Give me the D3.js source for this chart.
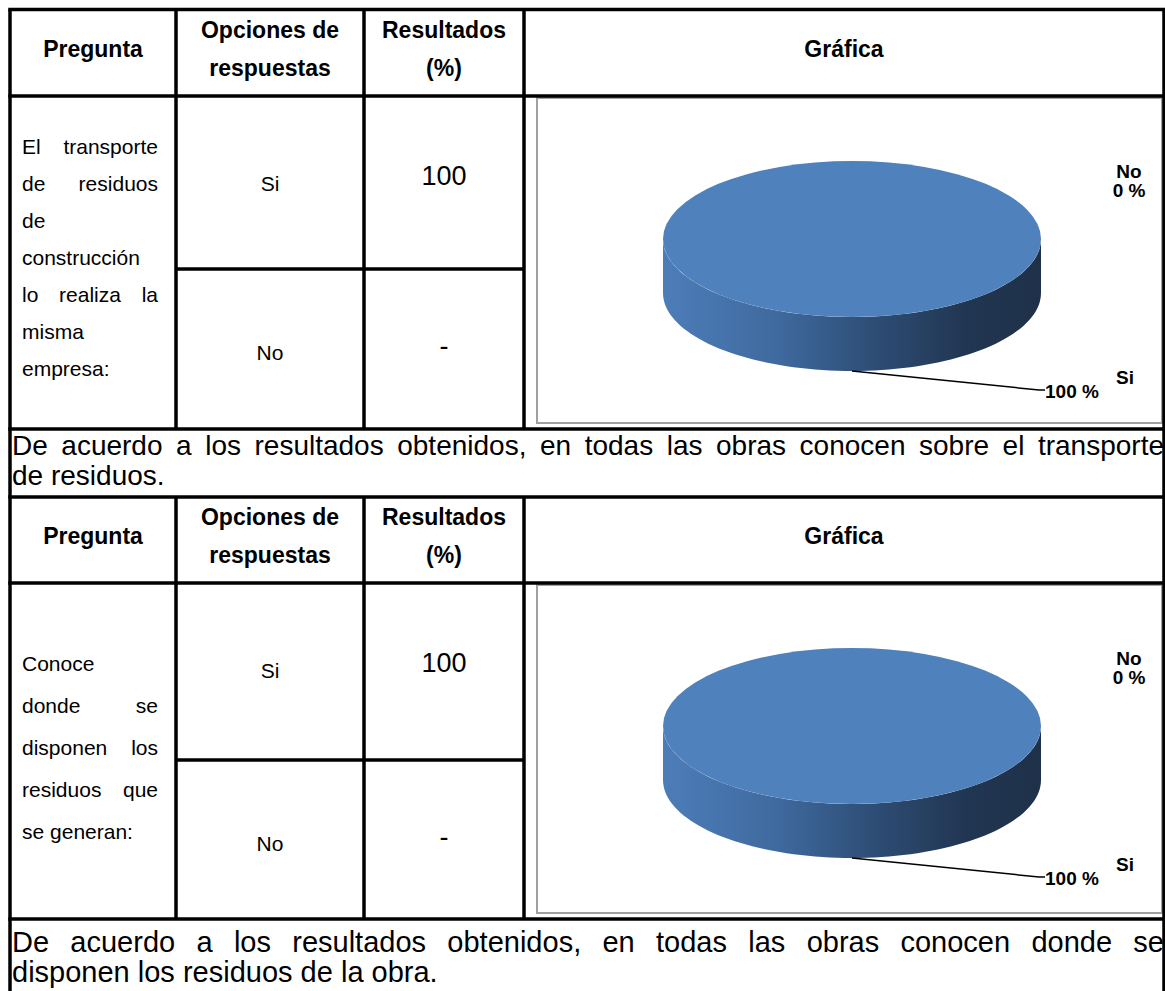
<!DOCTYPE html>
<html lang="es">
<head>
<meta charset="UTF-8">
<title>Resultados de la encuesta</title>
<script src="https://d3js.org/d3.v7.min.js"></script>
<style>
  body { margin: 0; background: #fff; }
  svg { display: block; font-family: "Liberation Sans", Arial, sans-serif; }
</style>
</head>
<body>
<svg width="1165" height="991"></svg>
<script>
  // data
  const encabezados = [["Pregunta"], ["Opciones de", "respuestas"], ["Resultados", "(%)"], ["Gráfica"]];
  const preguntas = [
    "El transporte de residuos de construcción lo realiza la misma empresa:",
    "Conoce donde se disponen los residuos que se generan:"
  ];
  const opciones = ["Si", "No"];
  const resultados = [[100, 0], [100, 0]];
  const conclusiones = [
    ["De acuerdo a los resultados obtenidos, en todas las obras conocen sobre el transporte", "de residuos."],
    ["De acuerdo a los resultados obtenidos, en todas las obras conocen donde se", "disponen los residuos de la obra."]
  ];

  // layout
  const colX = [10, 176, 364, 524, 1164];
  const secciones = [
    { top: 9.5, head: 96, split: 269, bottom: 429, end: 497, lineGap: 37, firstLine: 51, textSize: 28, textY: [445, 475] },
    { top: 497, head: 583, split: 760, bottom: 919, end: 991, lineGap: 42, firstLine: 81, textSize: 29, textY: [942, 972] }
  ];

  const svg = d3.select("svg");
  const pie = d3.pie().sort(null);
  const arcTop = d3.arc().innerRadius(0).outerRadius(1);

  const defs = svg.append("defs");

  function measure(txt, size, weight) {
    const t = svg.append("text").attr("font-size", size).attr("font-weight", weight || "normal").text(txt);
    const w = t.node().getComputedTextLength();
    t.remove();
    return w;
  }

  // draws words spread over the width (justified), or left aligned
  function justified(g, words, x0, width, y, size, justify) {
    const ws = words.map(w => measure(w, size));
    const space = measure("a a", size) - measure("aa", size);
    let gap = space;
    if (justify && words.length > 1) {
      gap = (width - d3.sum(ws)) / (words.length - 1);
    }
    let x = x0;
    words.forEach((w, i) => {
      g.append("text").attr("x", x).attr("y", y).attr("dy", "0.35em")
        .attr("font-size", size).attr("fill", "#000").text(w);
      x += ws[i] + gap;
    });
  }

  function wrap(text, size, width) {
    const words = text.split(" ");
    const lines = [];
    let cur = [];
    words.forEach(w => {
      const test = cur.concat([w]).join(" ");
      if (cur.length && measure(test, size) > width) {
        lines.push(cur);
        cur = [w];
      } else {
        cur.push(w);
      }
    });
    if (cur.length) lines.push(cur);
    return lines;
  }

  secciones.forEach((s, k) => {
    const g = svg.append("g");

    // header texts
    encabezados.forEach((lines, c) => {
      const cxh = (colX[c] + colX[c + 1]) / 2;
      const mid = (s.top + s.head) / 2 - 4;
      lines.forEach((l, i) => {
        g.append("text")
          .attr("x", cxh)
          .attr("y", mid + (i - (lines.length - 1) / 2) * 38)
          .attr("dy", "0.35em")
          .attr("text-anchor", "middle")
          .attr("font-size", 23)
          .attr("font-weight", "bold")
          .text(l);
      });
    });

    // question, wrapped and justified
    const qLines = wrap(preguntas[k], 21, 135);
    qLines.forEach((ws, i) => {
      const last = i === qLines.length - 1;
      justified(g, ws, 22, 136, s.head + s.firstLine + i * s.lineGap, 21, !last);
    });

    // options and results
    opciones.forEach((o, i) => {
      const rowTop = i === 0 ? s.head : s.split;
      g.append("text")
        .attr("x", (colX[1] + colX[2]) / 2)
        .attr("y", rowTop + (i === 0 ? 88 : 84))
        .attr("dy", "0.35em")
        .attr("text-anchor", "middle")
        .attr("font-size", 21)
        .text(o);
      const v = resultados[k][i];
      g.append("text")
        .attr("x", (colX[2] + colX[3]) / 2)
        .attr("y", rowTop + (i === 0 ? 80 : 77))
        .attr("dy", "0.35em")
        .attr("text-anchor", "middle")
        .attr("font-size", 27)
        .text(v > 0 ? v : "-");
    });

    // conclusion text
    justified(g, conclusiones[k][0].split(" "), colX[0] + 2, colX[4] - colX[0] - 2, s.textY[0], s.textSize, true);
    justified(g, conclusiones[k][1].split(" "), colX[0] + 2, 0, s.textY[1], s.textSize, false);

    // chart frame
    const fx = 537, fy = s.head + 2, fw = 625, fh = s.bottom - 6 - fy;
    g.append("rect")
      .attr("x", fx).attr("y", fy).attr("width", fw).attr("height", fh)
      .attr("fill", "#fff").attr("stroke", "#a0a0a0").attr("stroke-width", 2);

    // 3d pie
    const cx = fx + 315, cy = fy + 141, rx = 189, ry = 78, depth = 54;
    const grad = defs.append("linearGradient")
      .attr("id", "side" + k)
      .attr("gradientUnits", "userSpaceOnUse")
      .attr("x1", cx - rx).attr("x2", cx + rx).attr("y1", 0).attr("y2", 0);
    [[0, "#4d7db8"], [0.3, "#3f6a9f"], [0.55, "#2e4e76"], [0.8, "#213652"], [1, "#1f3149"]]
      .forEach(d => grad.append("stop").attr("offset", d[0]).attr("stop-color", d[1]));

    const slices = pie(resultados[k]);

    const sidePath = (a0, a1) => {
      const st = Math.max(a0, Math.PI / 2), en = Math.min(a1, 3 * Math.PI / 2);
      if (en <= st) return null;
      const angs = d3.range(0, 81).map(i => st + (en - st) * i / 80);
      const top = angs.map(a => [cx + rx * Math.sin(a), cy - ry * Math.cos(a)]);
      const bot = angs.slice().reverse().map(a => [cx + rx * Math.sin(a), cy - ry * Math.cos(a) + depth]);
      return d3.line()(top.concat(bot)) + "Z";
    };

    slices.forEach(d => {
      const p = sidePath(d.startAngle, d.endAngle);
      if (p) g.append("path").attr("d", p).attr("fill", "url(#side" + k + ")");
    });
    g.selectAll(".top")
      .data(slices.filter(d => d.value > 0))
      .join("path")
      .attr("transform", `translate(${cx},${cy}) scale(${rx},${ry})`)
      .attr("d", arcTop)
      .attr("fill", "#4f81bd");

    // labels
    slices.forEach((d, i) => {
      const pct = Math.round(d.value / d3.sum(resultados[k]) * 100) + " %";
      if (d.value > 0) {
        const mid = (d.startAngle + d.endAngle) / 2;
        const px = cx + rx * Math.sin(mid), py = cy - ry * Math.cos(mid) + depth;
        const ex = fx + 502, ey = fy + 292;
        g.append("path")
          .attr("d", d3.line()([[px, py], [ex, ey], [ex + 6, ey]]))
          .attr("fill", "none").attr("stroke", "#000").attr("stroke-width", 1.5);
        g.append("text").attr("x", fx + 588).attr("y", fy + 279).attr("dy", "0.35em")
          .attr("text-anchor", "middle").attr("font-size", 19).attr("font-weight", "bold").text(opciones[i]);
        g.append("text").attr("x", ex + 6).attr("y", fy + 293).attr("dy", "0.35em")
          .attr("font-size", 19).attr("font-weight", "bold").text(pct);
      } else {
        g.append("text").attr("x", fx + 592).attr("y", fy + 73).attr("dy", "0.35em")
          .attr("text-anchor", "middle").attr("font-size", 19).attr("font-weight", "bold").text(opciones[i]);
        g.append("text").attr("x", fx + 592).attr("y", fy + 92).attr("dy", "0.35em")
          .attr("text-anchor", "middle").attr("font-size", 19).attr("font-weight", "bold").text(pct);
      }
    });

    // grid lines
    const lw = 3.5;
    const line = (x1, y1, x2, y2) => g.append("line")
      .attr("x1", x1).attr("y1", y1).attr("x2", x2).attr("y2", y2)
      .attr("stroke", "#000").attr("stroke-width", lw);
    line(colX[0] - lw / 2, s.top, colX[4] + 2, s.top);
    line(colX[0] - lw / 2, s.head, colX[4] + 2, s.head);
    line(colX[1], s.split, colX[3], s.split);
    line(colX[0] - lw / 2, s.bottom, colX[4] + 2, s.bottom);
    line(colX[0], s.top, colX[0], s.end);
    line(colX[4], s.top, colX[4], s.end);
    [1, 2, 3].forEach(c => line(colX[c], s.top, colX[c], s.bottom));
  });
</script>
</body>
</html>
